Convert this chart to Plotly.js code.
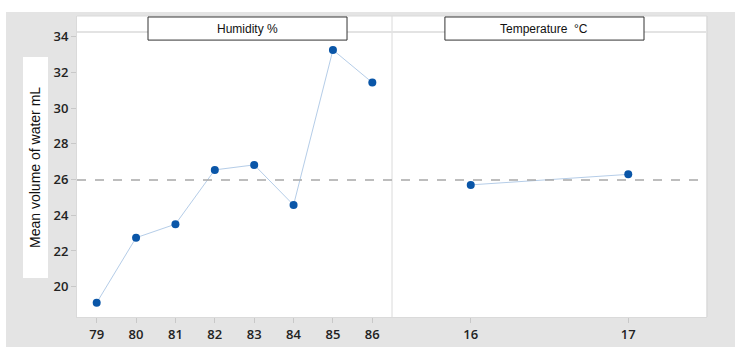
<!DOCTYPE html>
<html>
<head>
<meta charset="utf-8">
<script src="https://cdn.plot.ly/plotly-3.0.1.min.js"></script>
<style>
html,body{margin:0;padding:0;background:#ffffff;width:735px;height:347px;overflow:hidden;}
#chart{position:absolute;left:6px;top:12px;width:729px;height:335px;}
</style>
</head>
<body>
<div id="chart"></div>
<script>
// Data
const humidityLevels = [79, 80, 81, 82, 83, 84, 85, 86];
const humidityMeans = [19.1, 22.74, 23.5, 26.54, 26.82, 24.57, 33.26, 31.43];
const temperatureLevels = [16, 17];
const temperatureMeans = [25.70, 26.29];
const grandMean = 25.97;
const panelTitles = ["Humidity %", "Temperature  \u00B0C"];
const yTicks = [20, 22, 24, 26, 28, 30, 32, 34];
const yTitle = "Mean volume of water mL";

const markerStyle = {color: '#0a56a8', size: 8};
const lineStyle = {color: '#b5cde8', width: 1};

const traces = [
  {x: humidityLevels, y: humidityMeans, xaxis: 'x', yaxis: 'y', type: 'scatter', mode: 'lines+markers',
   marker: markerStyle, line: lineStyle, hoverinfo: 'x+y'},
  {x: temperatureLevels, y: temperatureMeans, xaxis: 'x2', yaxis: 'y', type: 'scatter', mode: 'lines+markers',
   marker: markerStyle, line: lineStyle, hoverinfo: 'x+y'}
];

const tickFont = {family: 'Open Sans, sans-serif', size: 13, color: '#222222', weight: 600};
const gridCol = '#dadada';
const labelFont = {family: 'Liberation Sans, Arial, sans-serif', size: 12, color: '#111111'};

const layout = {
  width: 729, height: 335,
  margin: {l: 71, r: 28, t: 4, b: 30},
  paper_bgcolor: '#e4e4e4',
  plot_bgcolor: '#ffffff',
  showlegend: false,
  xaxis: {
    domain: [0, 0.5], range: [78.5, 86.5], tickmode: 'array', tickvals: humidityLevels,
    ticktext: humidityLevels.map(String), ticks: 'outside', ticklen: 5, tickcolor: '#c8c8c8',
    showgrid: false, zeroline: false, showline: true, linecolor: gridCol, linewidth: 1,
    tickfont: tickFont, anchor: 'y', fixedrange: true
  },
  xaxis2: {
    domain: [0.5, 1], range: [15.5, 17.5], tickmode: 'array', tickvals: temperatureLevels,
    ticktext: temperatureLevels.map(String), ticks: 'outside', ticklen: 5, tickcolor: '#c8c8c8',
    showgrid: false, zeroline: false, showline: true, linecolor: gridCol, linewidth: 1,
    tickfont: tickFont, anchor: 'y', fixedrange: true
  },
  yaxis: {
    range: [18.3, 35.16], tickmode: 'array', tickvals: yTicks, ticktext: yTicks.map(String),
    ticks: 'outside', ticklen: 5, tickcolor: '#c8c8c8', showgrid: false, zeroline: false,
    showline: true, linecolor: gridCol, linewidth: 1, tickfont: tickFont, fixedrange: true
  },
  shapes: [
    {type: 'line', xref: 'paper', yref: 'paper', x0: 1, x1: 1, y0: 0, y1: 1, line: {color: gridCol, width: 1.5}},
    {type: 'line', xref: 'paper', yref: 'paper', x0: 0, x1: 1, y0: 1, y1: 1, line: {color: gridCol, width: 1}},
    {type: 'line', xref: 'paper', yref: 'paper', x0: 0.5, x1: 0.5, y0: 0, y1: 1, line: {color: gridCol, width: 1}},
    {type: 'line', xref: 'paper', yref: 'y', x0: 0, x1: 1, y0: 34.26, y1: 34.26, line: {color: '#e3e3e3', width: 2}},
    {type: 'line', xref: 'paper', yref: 'y', x0: 0, x1: 1, y0: grandMean, y1: grandMean,
     line: {color: '#a8a8a8', width: 1.5, dash: 'dash'}},
    {type: 'rect', xref: 'paper', yref: 'paper', x0: 0.1127, x1: 0.4286, y0: 0.920, y1: 0.9967,
     fillcolor: '#ffffff', line: {color: '#333333', width: 1}},
    {type: 'rect', xref: 'paper', yref: 'paper', x0: 0.584, x1: 0.900, y0: 0.920, y1: 0.9967,
     fillcolor: '#ffffff', line: {color: '#333333', width: 1}},
    {type: 'rect', xref: 'paper', yref: 'paper', x0: -0.0857, x1: -0.046, y0: 0.1296, y1: 0.864,
     fillcolor: '#ffffff', line: {width: 0}}
  ],
  annotations: [
    {text: panelTitles[0], xref: 'paper', yref: 'paper', x: 0.2706, y: 0.958, showarrow: false,
     xanchor: 'center', yanchor: 'middle', font: labelFont},
    {text: panelTitles[1], xref: 'paper', yref: 'paper', x: 0.742, y: 0.958, showarrow: false,
     xanchor: 'center', yanchor: 'middle', font: labelFont},
    {text: yTitle, xref: 'paper', yref: 'paper', x: -0.0658, y: 0.497, showarrow: false, textangle: -90,
     xanchor: 'center', yanchor: 'middle',
     font: {family: 'Liberation Sans, Arial, sans-serif', size: 14, color: '#111111'}}
  ]
};

Plotly.newPlot('chart', traces, layout, {displayModeBar: false, staticPlot: true});
</script>
</body>
</html>
